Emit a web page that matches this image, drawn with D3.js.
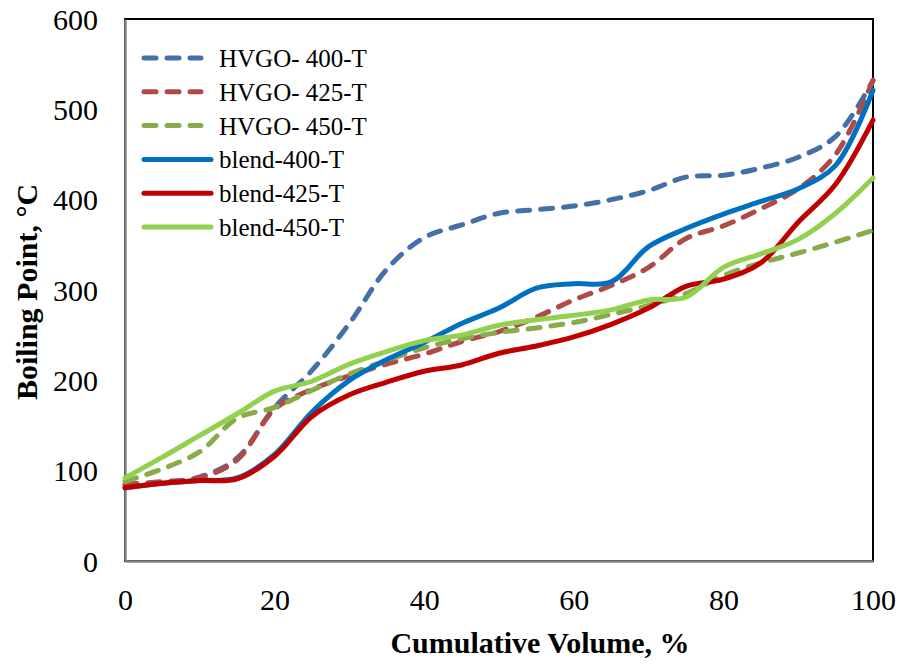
<!DOCTYPE html>
<html>
<head>
<meta charset="utf-8">
<script src="https://cdn.jsdelivr.net/npm/d3@7"></script>
<style>
  html, body { margin: 0; padding: 0; background: #ffffff; }
  svg { display: block; }
  text { font-family: "Liberation Serif", "Times New Roman", serif; fill: #000; }
</style>
</head>
<body>
<svg id="chart" width="901" height="666"></svg>
<script>
// Cumulative distilled volume, %
const volume = [0, 5, 10, 15, 20, 25, 30, 35, 40, 45, 50, 55, 60, 65, 70, 75, 80, 85, 90, 95, 100];

// Boiling point, °C
const hvgo400 = [84, 87, 93, 114, 170, 211, 263, 323, 358, 372, 385, 389, 393, 400, 410, 425, 427, 435, 447, 470, 532];
const hvgo425 = [85, 88, 92, 112, 168, 190, 205, 218, 229, 243, 254, 270, 289, 305, 325, 357, 371, 390, 412, 450, 532];
const hvgo450 = [88, 102, 121, 158, 170, 189, 207, 222, 236, 246, 253, 258, 264, 273, 283, 296, 316, 330, 341, 353, 366];
const blend400 = [81, 86, 89, 92, 118, 165, 200, 223, 242, 263, 280, 302, 307, 309, 348, 368, 384, 398, 412, 438, 521];
const blend425 = [81, 86, 89, 91, 116, 160, 184, 198, 210, 217, 230, 238, 248, 262, 280, 304, 312, 330, 375, 417, 488];
const blend450 = [92, 115, 139, 163, 188, 199, 218, 232, 244, 250, 261, 267, 272, 278, 289, 292, 325, 340, 356, 385, 424];

const seriesNames = ["HVGO- 400-T", "HVGO- 425-T", "HVGO- 450-T", "blend-400-T", "blend-425-T", "blend-450-T"];
const seriesValues = [hvgo400, hvgo425, hvgo450, blend400, blend425, blend450];
const seriesColors = ["#4470a8", "#b14a46", "#8aab4c", "#0070c0", "#c00000", "#92d050"];
const seriesDashed = [true, true, true, false, false, false];

const xTicks = [0, 20, 40, 60, 80, 100];
const yTicks = [0, 100, 200, 300, 400, 500, 600];

const svg = d3.select("#chart");
const plot = { left: 125, right: 873, top: 19, bottom: 561 };

const x = d3.scaleLinear().domain([0, 100]).range([plot.left, plot.right]);
const y = d3.scaleLinear().domain([0, 600]).range([plot.bottom, plot.top]);

// plot area frame
svg.append("rect")
  .attr("x", plot.left).attr("y", plot.top)
  .attr("width", plot.right - plot.left).attr("height", plot.bottom - plot.top)
  .attr("fill", "#ffffff").attr("stroke", "#000000").attr("stroke-width", 2);

// axes (no tick marks, labels only)
const xAxis = d3.axisBottom(x).tickValues(xTicks).tickSize(0).tickPadding(0).tickFormat(d3.format("d"));
const yAxis = d3.axisLeft(y).tickValues(yTicks).tickSize(0).tickPadding(0).tickFormat(d3.format("d"));

const gx = svg.append("g").attr("transform", `translate(0,${plot.bottom})`).call(xAxis);
gx.select(".domain").attr("stroke", "#868686").attr("stroke-width", 2.5);
gx.selectAll(".tick text")
  .attr("font-family", "Liberation Serif, Times New Roman, serif")
  .attr("font-size", 30).attr("fill", "#000")
  .attr("dy", null).attr("y", 49);

const gy = svg.append("g").attr("transform", `translate(${plot.left},0)`).call(yAxis);
gy.select(".domain").attr("stroke", "#868686").attr("stroke-width", 2.5);
gy.selectAll(".tick text")
  .attr("font-family", "Liberation Serif, Times New Roman, serif")
  .attr("font-size", 30).attr("fill", "#000")
  .attr("x", -27).attr("dy", "0.34em");

// series lines
const line = d3.line()
  .x((d, i) => x(volume[i]))
  .y(d => y(d))
  .curve(d3.curveCatmullRom.alpha(0.5));

const lines = svg.append("g");
seriesValues.forEach((vals, k) => {
  lines.append("path")
    .datum(vals)
    .attr("d", line)
    .attr("fill", "none")
    .attr("stroke", seriesColors[k])
    .attr("stroke-width", 5)
    .attr("stroke-linecap", "round")
    .attr("stroke-linejoin", "round")
    .attr("stroke-dasharray", seriesDashed[k] ? "12 11" : null);
});

// legend
const legend = svg.append("g");
seriesNames.forEach((name, k) => {
  const base = 67 + k * 33.8;
  const ly = base - 9;
  legend.append("line")
    .attr("x1", 144).attr("x2", seriesDashed[k] ? 201 : 211)
    .attr("y1", ly).attr("y2", ly)
    .attr("stroke", seriesColors[k])
    .attr("stroke-width", 5)
    .attr("stroke-linecap", "round")
    .attr("stroke-dasharray", seriesDashed[k] ? "12 11" : null);
  legend.append("text")
    .attr("x", 219).attr("y", base)
    .attr("font-size", 25)
    .text(name);
});

// axis titles
svg.append("text")
  .attr("x", 540).attr("y", 653)
  .attr("text-anchor", "middle")
  .attr("font-size", 30).attr("font-weight", "bold")
  .text("Cumulative Volume, %");

svg.append("text")
  .attr("transform", "translate(37,292) rotate(-90)")
  .attr("text-anchor", "middle")
  .attr("font-size", 30).attr("font-weight", "bold")
  .text("Boiling Point, °C");
</script>
</body>
</html>
